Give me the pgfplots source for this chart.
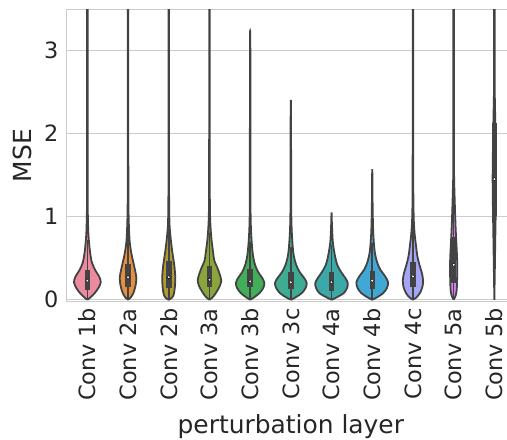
\documentclass[border=0pt]{standalone}
\usepackage{fontspec}
\setmainfont{DejaVu Sans}
\usepackage{pgfplots}
\usepackage{pgfplotstable}
\pgfplotsset{compat=1.18}

\definecolor{gridgray}{HTML}{CCCCCC}
\definecolor{txt}{HTML}{262626}
\definecolor{edge}{HTML}{434343}
\definecolor{v1}{HTML}{EC8B9D}
\definecolor{v2}{HTML}{E6903F}
\definecolor{v3}{HTML}{B09A32}
\definecolor{v4}{HTML}{8BA53A}
\definecolor{v5}{HTML}{41AE5A}
\definecolor{v6}{HTML}{3EAC93}
\definecolor{v7}{HTML}{3BA9A8}
\definecolor{v8}{HTML}{41A8D6}
\definecolor{v9}{HTML}{A4A6F4}
\definecolor{v10}{HTML}{D880EB}
\definecolor{v11}{HTML}{EB79BC}

% inner box statistics per layer
\pgfplotstableread{
x  q1   med  q3   hi
0  0.12 0.23 0.36 0.72
1  0.15 0.27 0.43 0.85
2  0.14 0.27 0.47 0.96
3  0.15 0.24 0.41 0.80
4  0.15 0.22 0.37 0.70
5  0.13 0.21 0.33 0.63
6  0.11 0.21 0.33 0.66
7  0.13 0.23 0.35 0.68
8  0.15 0.28 0.45 0.90
9  0.20 0.42 0.75 1.57
10 1.01 1.45 2.12 3.60
}\stats

\begin{document}
\begin{tikzpicture}
\begin{axis}[
  at={(0,0)}, anchor=south west,
  scale only axis, width=447.7bp, height=291bp,
  xmin=-0.5, xmax=10.5, ymin=-0.015, ymax=3.482,
  xtick={0,...,10},
  xticklabels={Conv 1b,Conv 2a,Conv 2b,Conv 3a,Conv 3b,Conv 3c,Conv 4a,Conv 4b,Conv 4c,Conv 5a,Conv 5b},
  ytick={0,1,2,3},
  ymajorgrids, grid style={gridgray, line width=1bp},
  axis line style={gridgray, line width=1bp},
  major tick length=0pt,
  /pgf/number format/assume math mode=true,
  tick label style={font=\fontsize{22.5}{27}\selectfont, text=txt},
  xticklabel style={yshift=-4bp, rotate=90, anchor=east},
  yticklabel style={xshift=-5bp},
  label style={font=\fontsize{25}{30}\selectfont, text=txt},
  xlabel={perturbation layer},
  ylabel={MSE},
  xlabel style={at={(axis description cs:0.5,-0.4557)}, anchor=base},
  ylabel style={at={(axis description cs:-0.0994,0.5)}, anchor=center},
  violin/.style={smooth, tension=0.5, draw=edge, line width=1.8bp, forget plot},
]
% Conv 1b
\addplot[violin, fill=v1] table[x expr=0+\thisrow{w}, y=y] {
w y
0 0
0.08 0.03
0.18 0.08
0.27 0.14
0.33 0.21
0.29 0.28
0.20 0.35
0.11 0.45
0.06 0.6
0.025 0.8
0.01 1.1
0.007 1.6
0.006 3.6
-0.006 3.6
-0.007 1.6
-0.01 1.1
-0.025 0.8
-0.06 0.6
-0.11 0.45
-0.20 0.35
-0.29 0.28
-0.33 0.21
-0.27 0.14
-0.18 0.08
-0.08 0.03
0 0
};
% Conv 2a
\addplot[violin, fill=v2] table[x expr=1+\thisrow{w}, y=y] {
w y
0 0
0.07 0.03
0.13 0.08
0.18 0.16
0.205 0.26
0.17 0.36
0.12 0.47
0.08 0.56
0.04 0.7
0.02 0.9
0.009 1.2
0.007 2.0
0.006 3.6
-0.006 3.6
-0.007 2.0
-0.009 1.2
-0.02 0.9
-0.04 0.7
-0.08 0.56
-0.12 0.47
-0.17 0.36
-0.205 0.26
-0.18 0.16
-0.13 0.08
-0.07 0.03
0 0
};
% Conv 2b
\addplot[violin, fill=v3] table[x expr=2+\thisrow{w}, y=y] {
w y
0 0
0.07 0.02
0.12 0.06
0.15 0.15
0.16 0.27
0.14 0.4
0.11 0.5
0.08 0.6
0.045 0.75
0.02 0.9
0.009 1.2
0.007 2.0
0.006 3.6
-0.006 3.6
-0.007 2.0
-0.009 1.2
-0.02 0.9
-0.045 0.75
-0.08 0.6
-0.11 0.5
-0.14 0.4
-0.16 0.27
-0.15 0.15
-0.12 0.06
-0.07 0.02
0 0
};
% Conv 3a
\addplot[violin, fill=v4] table[x expr=3+\thisrow{w}, y=y] {
w y
0 0
0.08 0.03
0.17 0.09
0.25 0.16
0.29 0.23
0.25 0.31
0.19 0.39
0.12 0.47
0.09 0.57
0.045 0.75
0.016 1.0
0.008 1.5
0.006 3.6
-0.006 3.6
-0.008 1.5
-0.016 1.0
-0.045 0.75
-0.09 0.57
-0.12 0.47
-0.19 0.39
-0.25 0.31
-0.29 0.23
-0.25 0.16
-0.17 0.09
-0.08 0.03
0 0
};
% Conv 3b
\addplot[violin, fill=v5] table[x expr=4+\thisrow{w}, y=y] {
w y
0 0
0.10 0.03
0.23 0.08
0.32 0.14
0.35 0.20
0.30 0.26
0.20 0.33
0.12 0.42
0.065 0.55
0.03 0.75
0.012 1.0
0.007 1.5
0.005 3.0
0 3.23
-0.005 3.0
-0.007 1.5
-0.012 1.0
-0.03 0.75
-0.065 0.55
-0.12 0.42
-0.20 0.33
-0.30 0.26
-0.35 0.20
-0.32 0.14
-0.23 0.08
-0.10 0.03
0 0
};
% Conv 3c
\addplot[violin, fill=v6] table[x expr=5+\thisrow{w}, y=y] {
w y
0 0
0.12 0.03
0.27 0.08
0.36 0.14
0.39 0.20
0.33 0.26
0.22 0.33
0.13 0.42
0.065 0.55
0.03 0.75
0.012 1.0
0.007 1.5
0.005 2.2
0 2.4
-0.005 2.2
-0.007 1.5
-0.012 1.0
-0.03 0.75
-0.065 0.55
-0.13 0.42
-0.22 0.33
-0.33 0.26
-0.39 0.20
-0.36 0.14
-0.27 0.08
-0.12 0.03
0 0
};
% Conv 4a
\addplot[violin, fill=v7] table[x expr=6+\thisrow{w}, y=y] {
w y
0 0
0.13 0.03
0.30 0.08
0.38 0.14
0.40 0.20
0.34 0.26
0.24 0.33
0.14 0.42
0.075 0.55
0.03 0.7
0.01 0.9
0 1.05
-0.01 0.9
-0.03 0.7
-0.075 0.55
-0.14 0.42
-0.24 0.33
-0.34 0.26
-0.40 0.20
-0.38 0.14
-0.30 0.08
-0.13 0.03
0 0
};
% Conv 4b
\addplot[violin, fill=v8] table[x expr=7+\thisrow{w}, y=y] {
w y
0 0
0.12 0.03
0.27 0.08
0.36 0.14
0.39 0.21
0.32 0.28
0.20 0.36
0.12 0.45
0.06 0.58
0.025 0.8
0.01 1.1
0.006 1.4
0 1.57
-0.006 1.4
-0.01 1.1
-0.025 0.8
-0.06 0.58
-0.12 0.45
-0.20 0.36
-0.32 0.28
-0.39 0.21
-0.36 0.14
-0.27 0.08
-0.12 0.03
0 0
};
% Conv 4c
\addplot[violin, fill=v9] table[x expr=8+\thisrow{w}, y=y] {
w y
0 0
0.09 0.03
0.17 0.08
0.23 0.15
0.25 0.23
0.22 0.32
0.16 0.42
0.11 0.52
0.075 0.65
0.04 0.8
0.018 1.0
0.008 1.5
0.006 3.6
-0.006 3.6
-0.008 1.5
-0.018 1.0
-0.04 0.8
-0.075 0.65
-0.11 0.52
-0.16 0.42
-0.22 0.32
-0.25 0.23
-0.23 0.15
-0.17 0.08
-0.09 0.03
0 0
};
% Conv 5a
\addplot[violin, fill=v10] table[x expr=9+\thisrow{w}, y=y] {
w y
0 0
0.05 0.05
0.075 0.12
0.085 0.25
0.09 0.4
0.08 0.55
0.065 0.7
0.05 0.85
0.035 1.05
0.02 1.3
0.012 1.45
0.007 1.8
0.006 3.6
-0.006 3.6
-0.007 1.8
-0.012 1.45
-0.02 1.3
-0.035 1.05
-0.05 0.85
-0.065 0.7
-0.08 0.55
-0.09 0.4
-0.085 0.25
-0.075 0.12
-0.05 0.05
0 0
};
% Conv 5b
\addplot[violin, fill=v11] table[x expr=10+\thisrow{w}, y=y] {
w y
0 0
0.01 0.3
0.022 0.7
0.032 1.0
0.04 1.3
0.042 1.5
0.035 1.8
0.025 2.1
0.01 2.5
0.007 3.0
0.006 3.6
-0.006 3.6
-0.007 3.0
-0.01 2.5
-0.025 2.1
-0.035 1.8
-0.042 1.5
-0.04 1.3
-0.032 1.0
-0.022 0.7
-0.01 0.3
0 0
};
% whiskers
\addplot[draw=none, forget plot, error bars/.cd, y dir=both, y explicit, error mark=none,
  error bar style={draw=edge, solid, line width=1.6bp}]
  table[x=x, y=med, y error plus expr=\thisrow{hi}-\thisrow{med}, y error minus expr=\thisrow{med}] {\stats};
% boxes
\addplot[draw=none, forget plot, error bars/.cd, y dir=both, y explicit, error mark=none,
  error bar style={draw=edge, solid, line width=5.5bp}]
  table[x=x, y=med, y error plus expr=\thisrow{q3}-\thisrow{med}, y error minus expr=\thisrow{med}-\thisrow{q1}] {\stats};
% medians
\addplot[only marks, mark=*, mark size=1.7bp, mark options={draw=none, fill=white}, forget plot]
  table[x=x, y=med] {\stats};
\end{axis}
\pgfresetboundingbox
\useasboundingbox (-67bp,-139bp) rectangle (440bp,301bp);
\end{tikzpicture}
\end{document}
